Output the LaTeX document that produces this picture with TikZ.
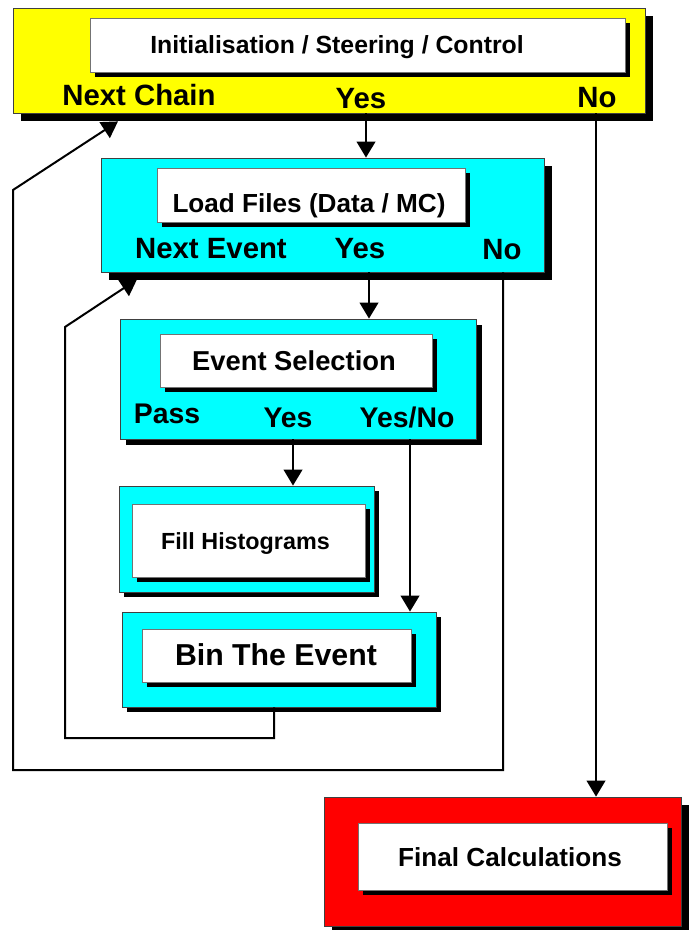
\documentclass[tikz,border=0pt]{standalone}
\usepackage{fontspec}
\setmainfont{Liberation Sans}
\usetikzlibrary{arrows.meta,shadows,fit,calc}
\definecolor{boxcyan}{RGB}{0,255,255}
\definecolor{boxyellow}{RGB}{255,255,0}
\definecolor{boxred}{RGB}{255,0,0}
\begin{document}
\begin{tikzpicture}[x=0.75pt,y=-0.75pt,
  outerbox/.style={draw=black!75, line width=0.6pt, inner sep=0pt,
    drop shadow={shadow xshift=#1, shadow yshift=-#1, fill=black, opacity=1}},
  outerbox/.default=6pt,
  innerbox/.style={draw=black!55, fill=white, line width=0.5pt, inner sep=0pt,
    drop shadow={shadow xshift=3.5pt, shadow yshift=-3.5pt, fill=black, opacity=1}},
  txt/.style={anchor=base, inner sep=0pt, font=\bfseries\fontsize{#1}{#1}\selectfont},
  conn/.style={line width=1.5pt},
  arr/.style={conn, -{Triangle[length=12pt,width=14pt]}}
]
\useasboundingbox (0,0) rectangle (689,930);
\fill[white] (0,0) rectangle (689,930);

% Initialisation
\node[outerbox, fill=boxyellow, fit={(13,8)(645,113)}] (init) {};
\node[innerbox, fit={(90,18)(625,72)}] (initw) {};
\node[txt=18.6pt] (initt) at (337,54) {Initialisation / Steering / Control};
\node[txt=22pt] (nextchain) at (139,106) {Next Chain};
\node[txt=22pt] (yesA) at (361,109) {Yes};
\node[txt=22pt] (noA) at (597,108) {No};

% Load files
\node[outerbox, fill=boxcyan, fit={(101,158)(544,272)}] (load) {};
\node[innerbox, fit={(157,168)(465,222)}] (loadw) {};
\node[txt=19.6pt] (loadt) at (309,213) {Load Files (Data / MC)};
\node[txt=22pt] (nextevent) at (211,258) {Next Event};
\node[txt=22pt] (yesB) at (360,258) {Yes};
\node[txt=22pt] (noB) at (502,260) {No};

% Event selection
\node[outerbox=4.5pt, fill=boxcyan, fit={(120,319)(476,439)}] (evsel) {};
\node[innerbox, fit={(160,334)(432,387)}] (evselw) {};
\node[txt=20.5pt] (evselt) at (294,370) {Event Selection};
\node[txt=21.3pt] (pass) at (167,423) {Pass};
\node[txt=21.3pt] (yesC) at (288,427) {Yes};
\node[txt=21.3pt] (yesno) at (407,427) {Yes/No};

% Fill histograms
\node[outerbox=4pt, fill=boxcyan, fit={(119,486)(374,592)}] (fill) {};
\node[innerbox, fit={(132,504)(365,577)}] (fillw) {};
\node[txt=17.5pt] (fillt) at (245.5,549) {Fill Histograms};

% Bin the event
\node[outerbox=4pt, fill=boxcyan, fit={(122,612)(436,707)}] (bin) {};
\node[innerbox, fit={(142,629)(411,682)}] (binw) {};
\node[txt=22.7pt] (bint) at (276,665) {Bin The Event};

% Final calculations
\node[outerbox, fill=boxred, fit={(324,797)(681,926)}] (final) {};
\node[innerbox, fit={(358,823)(667,890)}] (finalw) {};
\node[txt=19.6pt] (finalt) at (510,866) {Final Calculations};

% connectors
\coordinate (xa) at (366,0);
\draw[arr] (init.south -| xa) -- (load.north -| xa);

\coordinate (xb) at (369,0);
\draw[arr] (load.south -| xb) -- (evsel.north -| xb);

\coordinate (xc) at (503,0);
\coordinate (c1) at (13,770);
\coordinate (c2) at (13,190);
\coordinate (xd) at (118,0);
\coordinate (tipA) at ($(init.south -| xd)+(0,8)$);
\draw[arr] (load.south -| xc) |- (c1) -- (c2) -- (tipA);

\coordinate (xe) at (293,0);
\draw[arr] (evsel.south -| xe) -- (fill.north -| xe);

\coordinate (xf) at (410,0);
\draw[arr] (evsel.south -| xf) -- (bin.north -| xf);

\coordinate (xg) at (274,0);
\coordinate (c3) at (65,738);
\coordinate (c4) at (65,327);
\coordinate (xh) at (137,0);
\coordinate (tipB) at ($(load.south -| xh)+(0,7)$);
\draw[arr] (bin.south -| xg) |- (c3) -- (c4) -- (tipB);

\coordinate (xi) at (596,0);
\draw[arr] (init.south -| xi) -- (final.north -| xi);
\end{tikzpicture}
\end{document}
